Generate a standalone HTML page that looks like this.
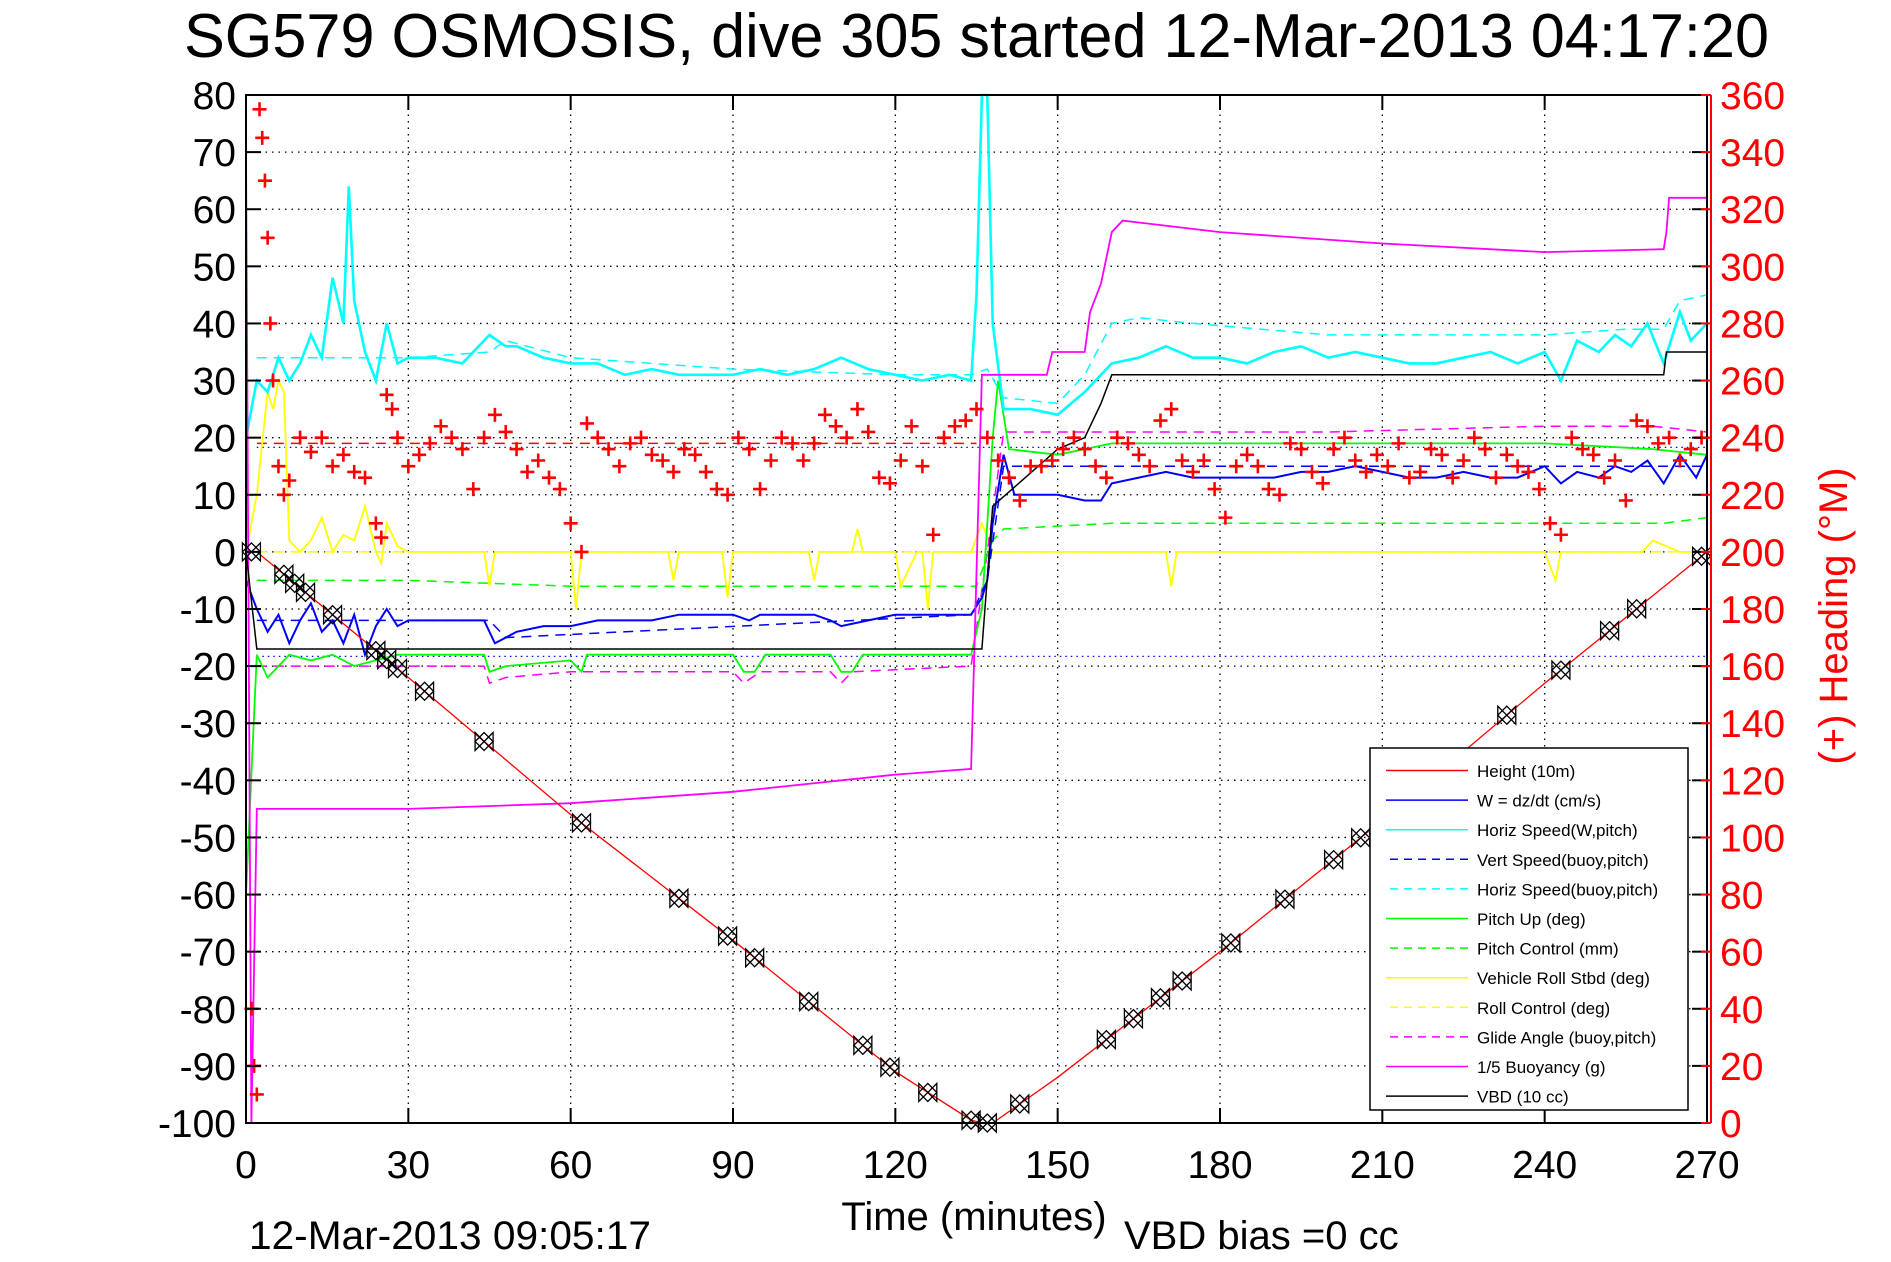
<!DOCTYPE html>
<html><head><meta charset="utf-8"><style>
html,body{margin:0;padding:0;background:#fff;}
svg{display:block;font-family:"Liberation Sans",Arial,sans-serif;}
</style></head><body>
<svg id="chart" width="1891" height="1262" viewBox="0 0 1891 1262" xmlns="http://www.w3.org/2000/svg">
<rect x="0" y="0" width="1891" height="1262" fill="#fff"/>
<text x="184" y="57" font-size="62" textLength="1585" lengthAdjust="spacingAndGlyphs">SG579 OSMOSIS, dive 305 started 12-Mar-2013 04:17:20</text>
<g id="grid"></g>
<g id="series"></g>
<g id="axes"></g>
<g id="legend"></g>
<text x="974" y="1230" font-size="40" text-anchor="middle">Time (minutes)</text>
<text x="1124" y="1249" font-size="40">VBD bias =0 cc</text>
<text x="249" y="1249" font-size="40" textLength="402" lengthAdjust="spacingAndGlyphs">12-Mar-2013 09:05:17</text>
<text x="0" y="0" font-size="40" fill="#f00" text-anchor="middle" transform="translate(1847,616) rotate(-90)">(+) Heading (°M)</text>
</svg>
<script>
const xTicks=[0,30,60,90,120,150,180,210,240,270];
const yTicks=[80,70,60,50,40,30,20,10,0,-10,-20,-30,-40,-50,-60,-70,-80,-90,-100];
const hTicks=[360,340,320,300,280,260,240,220,200,180,160,140,120,100,80,60,40,20,0];
// Height (10m)
const depthT=[0,2,30,60,90,120,134,136,138,150,180,210,240,270];
const depthV=[0,0,-22,-46,-68,-91,-99.5,-100,-100,-92,-70,-47,-23,0];
const markT=[1,7,9,11,16,24,26,28,33,44,62,80,89,94,104,114,119,126,134,137,143,159,164,169,173,182,192,201,206,233,243,252,257,269];
// W = dz/dt
const wT=[0,2,4,6,8,10,12,14,16,18,20,22,24,26,28,30,35,40,44,46,48,50,55,60,65,70,75,80,85,90,93,95,100,105,108,110,115,120,125,130,134,136,137,138,140,142,146,150,155,158,160,165,170,175,180,185,190,195,200,205,210,215,220,225,230,235,240,243,246,250,253,256,259,262,265,268,270];
const wV=[-5,-10,-14,-11,-16,-12,-9,-14,-12,-16,-11,-18,-13,-10,-13,-12,-12,-12,-12,-16,-15,-14,-13,-13,-12,-12,-12,-11,-11,-11,-12,-11,-11,-11,-12,-13,-12,-11,-11,-11,-11,-8,-5,5,17,10,10,10,9,9,12,13,14,13,13,13,13,14,14,15,14,13,13,14,13,13,15,12,14,13,15,14,16,12,17,13,17];
// Horiz Speed (W,pitch)
const hsT=[0,2,4,6,8,10,12,14,16,18,19,20,22,24,26,28,30,35,40,45,48,50,55,60,65,70,75,80,85,90,95,100,105,110,115,120,125,130,134,135,136,137,138,140,145,150,155,160,165,170,175,180,185,190,195,200,205,210,215,220,225,230,235,240,243,246,250,253,256,259,262,265,267,270];
const hsV=[20,30,28,34,30,33,38,34,48,40,64,44,35,30,40,33,34,34,33,38,36,36,34,33,33,31,32,31,31,31,32,31,32,34,32,31,30,31,30,45,80,80,40,25,25,24,28,33,34,36,34,34,33,35,36,34,35,34,33,33,34,35,33,35,30,37,35,38,36,40,33,42,37,40];
// Horiz Speed (buoy,pitch)
const hbT=[2,30,45,48,60,90,120,134,137,140,150,155,160,165,175,200,240,255,262,265,270];
const hbV=[34,34,35,37,34,32,31,31,32,27,26,31,40,41,40,38,38,39,39,44,45];
// Vert Speed (buoy,pitch)
const vbT=[2,45,48,134,137,140,270];
const vbV=[-12,-12,-15,-11,-5,15,15];
// Pitch Up
const puT=[0,2,4,8,12,16,20,24,28,32,40,44,45,48,60,62,63,66,90,92,94,96,108,110,112,114,130,134,136,138,139,141,150,160,200,240,260,270];
const puV=[-60,-18,-22,-18,-19,-18,-20,-19,-18,-18,-18,-18,-21,-20,-19,-21,-18,-18,-18,-21,-21,-18,-18,-21,-21,-18,-18,-18,-10,20,30,18,17,19,19,19,18,17];
// Pitch Control
const pcT=[2,15,30,45,60,135,138,140,160,262,270];
const pcV=[-5,-5,-5,-5.5,-6,-6,2,4,5,5,6];
// Vehicle Roll Stbd
const rollT=[0,2,4,5,6,7,8,10,12,14,16,18,20,22,24,25,26,28,30,35,40,44,45,46,50,55,60,61,62,63,65,70,78,79,80,81,88,89,90,91,100,104,105,106,112,113,114,115,120,121,124,125,126,127,133,134,136,138,140,145,150,155,160,170,171,172,180,190,200,210,220,230,240,242,243,244,250,258,260,265,270];
const rollV=[0,10,28,25,30,28,2,0,2,6,0,3,2,8,0,-2,5,1,0,0,0,0,-6,0,0,0,0,-10,0,0,0,0,0,-5,0,0,0,-8,0,0,0,0,-5,0,0,4,0,0,0,-6,0,0,-10,0,0,0,5,0,0,0,0,0,0,0,-6,0,0,0,0,0,0,0,0,-5,0,0,0,0,2,0,0];
// Roll Control
const rcT=[2,270];
const rcV=[0,0];
// Glide Angle (buoy,pitch)
const gaT=[2,30,44,45,48,60,90,92,95,108,110,112,134,137,140,160,200,240,260,270];
const gaV=[-20,-20,-20,-23,-22,-21,-21,-23,-21,-21,-23,-21,-20,0,21,21,21,22,22,21];
// 1/5 Buoyancy
const buT=[0,1,2,3,30,60,90,120,134,136,138,148,149,150,155,156,158,160,162,180,210,240,262,262.5,263,270];
const buV=[70,-100,-45,-45,-45,-44,-42,-39,-38,31,31,31,35,35,35,42,47,56,58,56,54,52.5,53,56,62,62];
// VBD (10 cc)
const vbdT=[0,2,134,136,138,150,155,158,160,262,262.5,270];
const vbdV=[0,-17,-17,-17,8,18,20,26,31,31,35,35];
// Heading (deg)
const headT=[1,1.5,2,2.5,3,3.5,4,4.5,5,6,7,8,10,12,14,16,18,20,22,24,25,26,27,28,30,32,34,36,38,40,42,44,46,48,50,52,54,56,58,60,62,63,65,67,69,71,73,75,77,79,81,83,85,87,89,91,93,95,97,99,101,103,105,107,109,111,113,115,117,119,121,123,125,127,129,131,133,135,137,139,141,143,145,147,149,151,153,155,157,159,161,163,165,167,169,171,173,175,177,179,181,183,185,187,189,191,193,195,197,199,201,203,205,207,209,211,213,215,217,219,221,223,225,227,229,231,233,235,237,239,241,243,245,247,249,251,253,255,257,259,261,263,265,267,269];
const headV=[40,20,10,355,345,330,310,280,260,230,220,225,240,235,240,230,234,228,226,210,205,255,250,240,230,234,238,244,240,236,222,240,248,242,236,228,232,226,222,210,200,245,240,236,230,238,240,234,232,228,236,234,228,222,220,240,236,222,232,240,238,232,238,248,244,240,250,242,226,224,232,244,230,206,240,244,246,250,240,232,226,218,230,230,232,236,240,236,230,226,240,238,234,230,246,250,232,228,232,222,212,230,234,230,222,220,238,236,228,224,236,240,232,228,234,230,238,226,228,236,234,226,232,240,236,226,234,230,228,222,210,206,240,236,234,226,232,218,246,244,238,240,232,236,240];

const NS='http://www.w3.org/2000/svg';
const L=246,R=1707,T=95,B=1123;
const xs=t=>L+(t/270)*(R-L);
const ys=v=>T+((80-v)/180)*(B-T);
const yh=h=>ys(-100+h/2);
function mk(tag,attrs,parent){const e=document.createElementNS(NS,tag);for(const k in attrs)e.setAttribute(k,attrs[k]);parent.appendChild(e);return e;}
const grid=document.getElementById('grid'),ser=document.getElementById('series'),axes=document.getElementById('axes'),leg=document.getElementById('legend');

xTicks.forEach(t=>{ if(t>0&&t<270){const g=mk('line',{x1:xs(t),x2:xs(t),y1:T,y2:B,stroke:'#000','stroke-width':1.3,'stroke-dasharray':'1.5 5'},grid);

}});
yTicks.forEach(v=>{ if(v<80&&v>-100){const g=mk('line',{x1:L,x2:R,y1:ys(v),y2:ys(v),stroke:'#000','stroke-width':1.3,'stroke-dasharray':'1.5 5'},grid);

}});

function line(tv,vv,color,dash,name,w){
  const pts=tv.map((t,i)=>xs(t).toFixed(1)+','+ys(vv[i]).toFixed(1)).join(' ');
  const p=mk('polyline',{points:pts,fill:'none',stroke:color,'stroke-width':w||1.5},ser);
  if(dash)p.setAttribute('stroke-dasharray',dash);
  
  
}
const r1=mk('line',{x1:xs(2),x2:xs(135),y1:ys(19),y2:ys(19),stroke:'#f00','stroke-width':1.5,'stroke-dasharray':'10 7'},ser);


const r2=mk('line',{x1:xs(2),x2:R,y1:ys(18.3),y2:ys(18.3),stroke:'#00f','stroke-width':1.3,'stroke-dasharray':'1.5 4'},ser);


const r3=mk('line',{x1:xs(2),x2:R,y1:ys(-18.3),y2:ys(-18.3),stroke:'#00f','stroke-width':1.3,'stroke-dasharray':'1.5 4'},ser);



line(rcT,rcV,'#ff0','10 7','roll-control-line');
line(rollT,rollV,'#ff0',null,'vehicle-roll-line',1.8);
line(gaT,gaV,'#f0f','10 7','glide-angle-line');
line(pcT,pcV,'#0f0','10 7','pitch-control-line');
line(puT,puV,'#0f0',null,'pitch-up-line',1.8);
line(vbT,vbV,'#00f','10 7','vert-speed-buoy-line');
line(wT,wV,'#00f',null,'w-dzdt-line',2);
line(hbT,hbV,'#0ff','10 7','horiz-speed-buoy-line');
line(hsT,hsV,'#0ff',null,'horiz-speed-w-line',2.6);
line(buT,buV,'#f0f',null,'buoyancy-line',1.8);
line(vbdT,vbdV,'#000',null,'vbd-line',1.5);
line(depthT,depthV,'#f00',null,'height-line',1.3);

function depthAt(t){for(let i=1;i<depthT.length;i++){if(t<=depthT[i]){const a=depthT[i-1],b=depthT[i];return depthV[i-1]+(depthV[i]-depthV[i-1])*(t-a)/(b-a);}}return depthV[depthV.length-1];}
markT.forEach(t=>{const cx=xs(t),cy=ys(depthAt(t)),s=9;
  const g=mk('g',{},ser);
  
  
  mk('polygon',{points:`${cx-s},${cy} ${cx},${cy-s} ${cx+s},${cy} ${cx},${cy+s}`,fill:'none',stroke:'#000','stroke-width':1.3},g);
  mk('polygon',{points:`${cx-s},${cy-s} ${cx-s},${cy+s} ${cx+s},${cy-s} ${cx+s},${cy+s}`,fill:'none',stroke:'#000','stroke-width':1.3},g);
});
headT.forEach((t,i)=>{const cx=xs(t),cy=yh(headV[i]),s=7;
  const p=mk('path',{d:`M${cx-s},${cy}H${cx+s}M${cx},${cy-s}V${cy+s}`,stroke:'#f00','stroke-width':2.6},ser);
  
  
});

const box=mk('rect',{x:L,y:T,width:R-L,height:B-T,fill:'none',stroke:'#000','stroke-width':2},axes);


const ra=mk('line',{x1:R+4,x2:R+4,y1:T,y2:B,stroke:'#f00','stroke-width':2},axes);


xTicks.forEach(t=>{
  mk('line',{x1:xs(t),x2:xs(t),y1:B,y2:B-15,stroke:'#000','stroke-width':2},axes);
  mk('line',{x1:xs(t),x2:xs(t),y1:T,y2:T+15,stroke:'#000','stroke-width':2},axes);
  const tx=mk('text',{x:xs(t),y:1178,'font-size':39,'text-anchor':'middle'},axes);
  tx.textContent=t;
  
  
});
yTicks.forEach(v=>{
  mk('line',{x1:L,x2:L+15,y1:ys(v),y2:ys(v),stroke:'#000','stroke-width':2},axes);
  mk('line',{x1:R,x2:R-15,y1:ys(v),y2:ys(v),stroke:'#000','stroke-width':2},axes);
  const tx=mk('text',{x:236,y:ys(v)+14,'font-size':39,'text-anchor':'end'},axes);
  tx.textContent=v;
  
  
});
hTicks.forEach(h=>{
  mk('line',{x1:R+4,x2:R-6,y1:yh(h),y2:yh(h),stroke:'#f00','stroke-width':2},axes);
  const tx=mk('text',{x:1720,y:yh(h)+14,'font-size':39,fill:'#f00'},axes);
  tx.textContent=h;
  
  
});

const legNames=['Height (10m)','W = dz/dt (cm/s)','Horiz Speed(W,pitch)','Vert Speed(buoy,pitch)','Horiz Speed(buoy,pitch)','Pitch Up (deg)','Pitch Control (mm)','Vehicle Roll Stbd (deg)','Roll Control (deg)','Glide Angle (buoy,pitch)','1/5 Buoyancy (g)','VBD (10 cc)'];
const legColors=['#f00','#00f','#0ff','#00f','#0ff','#0f0','#0f0','#ff0','#ff0','#f0f','#f0f','#000'];
const legDash=[0,0,0,1,1,0,1,0,1,1,0,0];
const lb=mk('rect',{x:1370,y:748,width:318,height:362,fill:'#fff',stroke:'#000','stroke-width':1.5},leg);


legNames.forEach((n,i)=>{const y=771+i*29.6;
  const g=mk('g',{},leg);
  
  
  const ln=mk('line',{x1:legDash[i]?1390:1386,x2:1468,y1:y-0.5,y2:y-0.5,stroke:legColors[i],'stroke-width':1.5},g);
  if(legDash[i])ln.setAttribute('stroke-dasharray','8 6');
  const tx=mk('text',{x:1477,y:y+6,'font-size':17},g);
  tx.textContent=n;
});
</script>
</body></html>
